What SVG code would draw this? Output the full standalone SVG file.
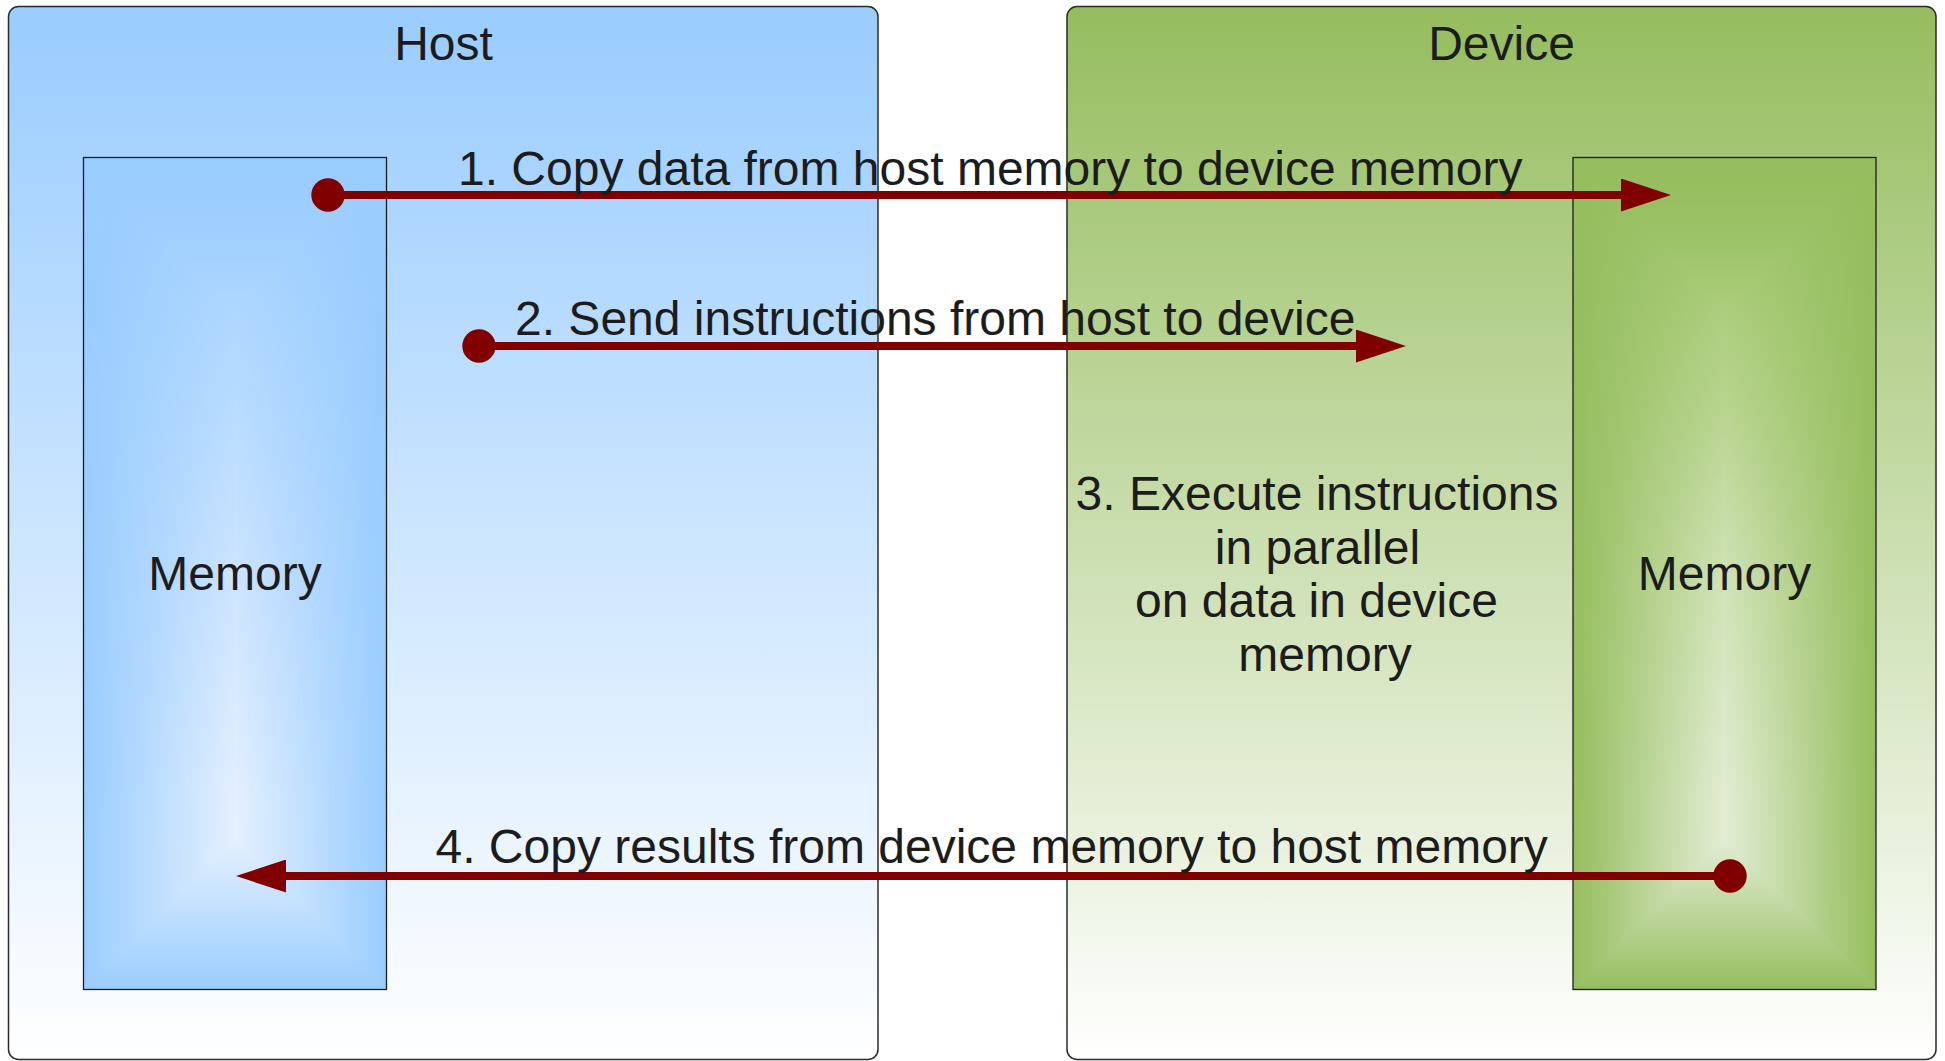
<svg xmlns="http://www.w3.org/2000/svg" width="1945" height="1061" viewBox="0 0 1945 1061">
  <style>
    .outer { stroke: #2b2b2b; stroke-width: 1.5; }
    .mem { stroke: #1e1e1e; stroke-width: 1.3; fill: none; }
    .txt { font-family: "Liberation Sans", Arial, sans-serif; font-size: 48px; fill: #1c1c1c; }
    .mid { text-anchor: middle; }
    .conn { stroke: #800000; stroke-width: 8; fill: none; }
  </style>
  <defs>
    <linearGradient id="gHost" x1="0" y1="0" x2="0" y2="1">
      <stop offset="0" stop-color="#99ccff"/>
      <stop offset="1" stop-color="#ffffff"/>
    </linearGradient>
    <linearGradient id="gDev" x1="0" y1="0" x2="0" y2="1">
      <stop offset="0" stop-color="#95bd5e"/>
      <stop offset="1" stop-color="#ffffff"/>
    </linearGradient>
    <linearGradient id="cHost" gradientUnits="userSpaceOnUse" x1="0" y1="157.5" x2="0" y2="989.5">
      <stop offset="0" stop-color="#a0cfff"/>
      <stop offset="0.29" stop-color="#b8dcff"/>
      <stop offset="0.52" stop-color="#cfe5ff"/>
      <stop offset="0.77" stop-color="#e4f0ff"/>
      <stop offset="1" stop-color="#e8f2ff"/>
    </linearGradient>
    <linearGradient id="cDev" gradientUnits="userSpaceOnUse" x1="0" y1="157.5" x2="0" y2="989.5">
      <stop offset="0" stop-color="#9ac263"/>
      <stop offset="0.29" stop-color="#b8d58e"/>
      <stop offset="0.52" stop-color="#d2e4b9"/>
      <stop offset="0.77" stop-color="#e2edd4"/>
      <stop offset="1" stop-color="#e6efd9"/>
    </linearGradient>
    <linearGradient id="mhL" gradientUnits="userSpaceOnUse" x1="83.5" y1="0" x2="235" y2="0"><stop offset="0" stop-color="#fff"/><stop offset="1" stop-color="#000"/></linearGradient>
    <linearGradient id="mhR" gradientUnits="userSpaceOnUse" x1="386.5" y1="0" x2="235" y2="0"><stop offset="0" stop-color="#fff"/><stop offset="1" stop-color="#000"/></linearGradient>
    <linearGradient id="mT" gradientUnits="userSpaceOnUse" x1="0" y1="157.5" x2="0" y2="309"><stop offset="0" stop-color="#fff"/><stop offset="1" stop-color="#000"/></linearGradient>
    <linearGradient id="mB" gradientUnits="userSpaceOnUse" x1="0" y1="989.5" x2="0" y2="838"><stop offset="0" stop-color="#fff"/><stop offset="1" stop-color="#000"/></linearGradient>
    <linearGradient id="mdL" gradientUnits="userSpaceOnUse" x1="1573" y1="0" x2="1724.5" y2="0"><stop offset="0" stop-color="#fff"/><stop offset="1" stop-color="#000"/></linearGradient>
    <linearGradient id="mdR" gradientUnits="userSpaceOnUse" x1="1876" y1="0" x2="1724.5" y2="0"><stop offset="0" stop-color="#fff"/><stop offset="1" stop-color="#000"/></linearGradient>
    <mask id="maskHost" maskUnits="userSpaceOnUse" x="0" y="0" width="1945" height="1061">
      <polygon points="83.5,157.5 235,309 235,838 83.5,989.5" fill="url(#mhL)" stroke="url(#mhL)" stroke-width="1"/>
      <polygon points="386.5,157.5 235,309 235,838 386.5,989.5" fill="url(#mhR)" stroke="url(#mhR)" stroke-width="1"/>
      <polygon points="83.5,157.5 386.5,157.5 235,309" fill="url(#mT)" stroke="url(#mT)" stroke-width="1"/>
      <polygon points="83.5,989.5 386.5,989.5 235,838" fill="url(#mB)" stroke="url(#mB)" stroke-width="1"/>
    </mask>
    <mask id="maskDev" maskUnits="userSpaceOnUse" x="0" y="0" width="1945" height="1061">
      <polygon points="1573,157.5 1724.5,309 1724.5,838 1573,989.5" fill="url(#mdL)" stroke="url(#mdL)" stroke-width="1"/>
      <polygon points="1876,157.5 1724.5,309 1724.5,838 1876,989.5" fill="url(#mdR)" stroke="url(#mdR)" stroke-width="1"/>
      <polygon points="1573,157.5 1876,157.5 1724.5,309" fill="url(#mT)" stroke="url(#mT)" stroke-width="1"/>
      <polygon points="1573,989.5 1876,989.5 1724.5,838" fill="url(#mB)" stroke="url(#mB)" stroke-width="1"/>
    </mask>
    <marker id="arrow" viewBox="0 0 50 33" refX="0" refY="16.5" markerWidth="50" markerHeight="33" markerUnits="userSpaceOnUse" orient="auto">
      <path d="M0,0 L50,16.5 L0,33 Z" fill="#800000"/>
    </marker>
    <marker id="dot" viewBox="0 0 34 34" refX="17" refY="17" markerWidth="34" markerHeight="34" markerUnits="userSpaceOnUse" orient="auto">
      <circle cx="17" cy="17" r="16.7" fill="#800000"/>
    </marker>
  </defs>

  <rect width="1945" height="1061" fill="#ffffff"/>

  <g id="host">
    <rect class="outer" x="8.5" y="6.5" width="869.5" height="1053" rx="10" fill="url(#gHost)"/>
    <text class="txt mid" x="443.5" y="60">Host</text>
  </g>

  <g id="device">
    <rect class="outer" x="1067" y="6.5" width="869" height="1053" rx="10" fill="url(#gDev)"/>
    <text class="txt mid" x="1501.5" y="60">Device</text>
  </g>

  <g id="host-memory">
    <rect x="83.5" y="157.5" width="303" height="832" fill="url(#cHost)"/>
    <rect x="83.5" y="157.5" width="303" height="832" fill="#99ccff" mask="url(#maskHost)"/>
    <rect class="mem" x="83.5" y="157.5" width="303" height="832"/>
    <text class="txt mid" x="235" y="590">Memory</text>
  </g>

  <g id="device-memory">
    <rect x="1573" y="157.5" width="303" height="832" fill="url(#cDev)"/>
    <rect x="1573" y="157.5" width="303" height="832" fill="#95bd5e" mask="url(#maskDev)"/>
    <rect class="mem" x="1573" y="157.5" width="303" height="832"/>
    <text class="txt mid" x="1724.5" y="590">Memory</text>
  </g>

  <g id="step3">
    <text class="txt mid" x="1317" y="510">3. Execute instructions</text>
    <text class="txt mid" x="1317.5" y="563.5">in parallel</text>
    <text class="txt mid" x="1316.5" y="617">on data in device</text>
    <text class="txt mid" x="1325" y="670.5">memory</text>
  </g>

  <g id="connectors">
    <path class="conn" d="M328,195 L1621,195" marker-start="url(#dot)" marker-end="url(#arrow)"/>
    <text class="txt" x="458" y="185">1. Copy data from host memory to device memory</text>
    <path class="conn" d="M479,346 L1356,346" marker-start="url(#dot)" marker-end="url(#arrow)"/>
    <text class="txt" x="515" y="335">2. Send instructions from host to device</text>
    <path class="conn" d="M1730,876 L286,876" marker-start="url(#dot)" marker-end="url(#arrow)"/>
    <text class="txt" x="435.5" y="863">4. Copy results from device memory to host memory</text>
  </g>
</svg>
